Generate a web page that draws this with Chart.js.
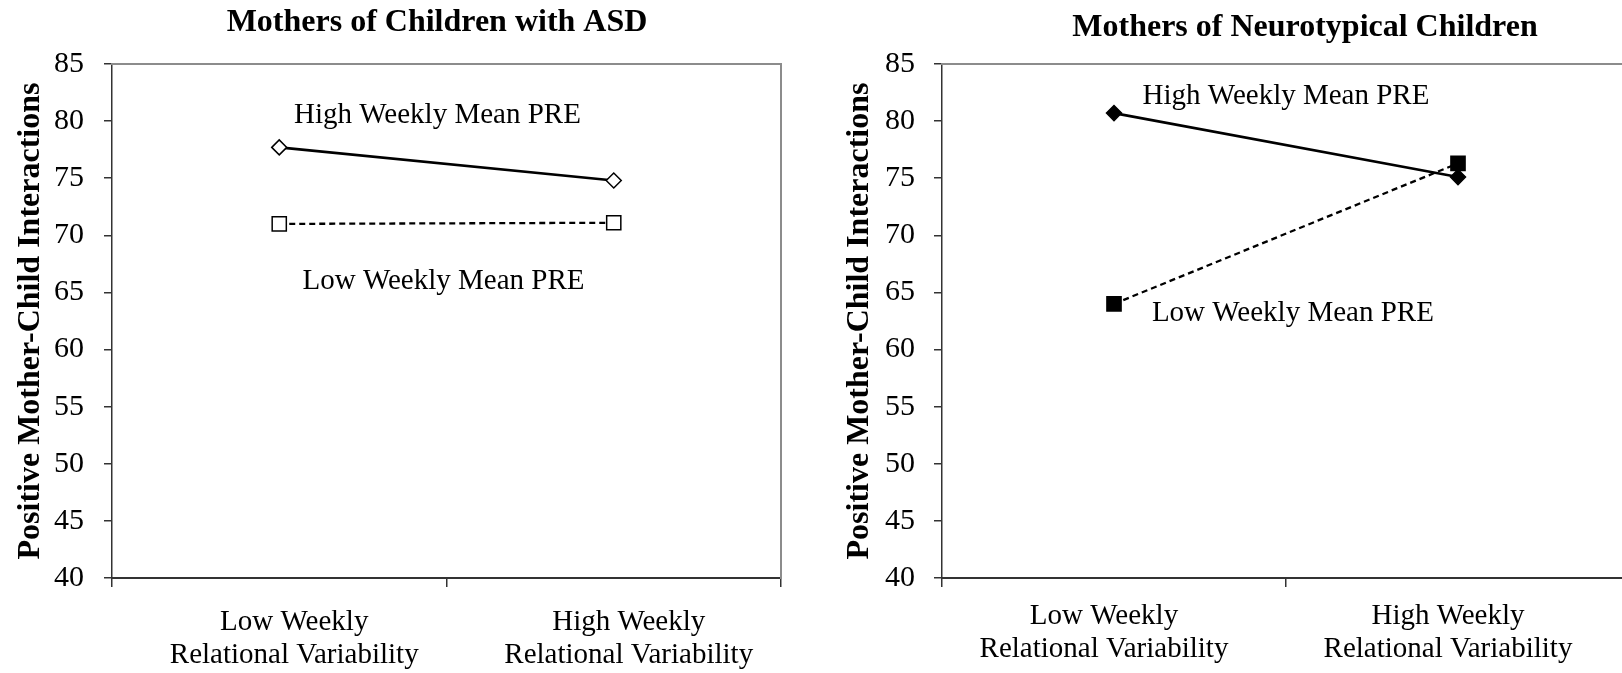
<!DOCTYPE html>
<html><head><meta charset="utf-8">
<script src="https://cdn.jsdelivr.net/npm/chart.js@4"></script>
<style>
html,body{margin:0;padding:0;background:#fff;overflow:hidden;width:1622px;height:673px;position:relative;}
#c1{position:absolute;left:0;top:0;}
#c2{position:absolute;left:820px;top:0;}
</style></head><body>
<canvas id="c1" width="820" height="673"></canvas>
<canvas id="c2" width="830" height="673"></canvas>
<script>
// ---- data ----
const categories = [['Low Weekly', 'Relational Variability'], ['High Weekly', 'Relational Variability']];
const yTicks = [40, 45, 50, 55, 60, 65, 70, 75, 80, 85];
const seriesNames = ['High Weekly Mean PRE', 'Low Weekly Mean PRE'];
const asdHigh = [77.7, 74.8];
const asdLow = [71.0, 71.1];
const ntHigh = [80.7, 75.1];
const ntLow = [64.0, 76.3];
const panelTitles = ['Mothers of Children with ASD', 'Mothers of Neurotypical Children'];
const yAxisTitle = 'Positive Mother-Child Interactions';

const SERIF = '"Liberation Serif", "Times New Roman", serif';
const AXIS = '#333333';
const FRAME = '#8c8c8c';

const textPlugin = {
  id: 'panelText',
  afterDatasetsDraw(chart, args, opts) {
    const ctx = chart.ctx;
    ctx.save();
    ctx.fillStyle = '#000';
    ctx.textAlign = 'center';
    ctx.textBaseline = 'middle';
    ctx.font = 'bold 32px ' + SERIF;
    ctx.fillText(opts.title, opts.titleX, opts.titleY);
    ctx.font = '29px ' + SERIF;
    const xs = chart.scales.x, ys = chart.scales.y;
    opts.notes.forEach(n => ctx.fillText(n.text, xs.getPixelForValue(n.x), ys.getPixelForValue(n.y)));
    ctx.restore();
  }
};

function makeChart(id, cfg) {
  const ds = [
    {
      label: seriesNames[0], data: cfg.high,
      borderColor: '#000', borderWidth: 2.6, tension: 0,
      pointStyle: 'rectRot', pointRadius: 7.5, pointHoverRadius: 7.5,
      pointBackgroundColor: cfg.filled ? '#000' : '#fff', pointBorderColor: '#000', pointBorderWidth: 1.5
    },
    {
      label: seriesNames[1], data: cfg.low,
      borderColor: '#000', borderWidth: 2.3, borderDash: [6, 4], tension: 0,
      pointStyle: 'rect', pointRadius: 10, pointHoverRadius: 10,
      pointBackgroundColor: cfg.filled ? '#000' : '#fff', pointBorderColor: '#000', pointBorderWidth: 1.5
    }
  ];
  return new Chart(document.getElementById(id), {
    type: 'line',
    data: { labels: categories, datasets: ds },
    plugins: [textPlugin],
    options: {
      responsive: false,
      animation: false,
      events: [],
      layout: { padding: { top: 64, left: 0, right: cfg.padRight, bottom: 0 } },
      plugins: {
        legend: { display: false },
        title: { display: false },
        tooltip: { enabled: false },
        panelText: { title: cfg.title, titleX: cfg.titleX, titleY: cfg.titleY, notes: cfg.notes }
      },
      scales: {
        x: {
          type: 'category', position: 'bottom', offset: true,
          grid: { display: true, offset: true, drawOnChartArea: false, drawTicks: true, tickLength: 9, color: AXIS, lineWidth: 1.5 },
          border: { display: true, color: AXIS, width: 2 },
          ticks: { color: '#000', font: { family: SERIF, size: 29, lineHeight: 1.14 }, padding: cfg.xPad, labelOffset: cfg.xLabelShift, maxRotation: 0, autoSkip: false },
          afterFit: s => { s.height = 95; }
        },
        y: {
          type: 'linear', position: 'left',
          min: yTicks[0], max: yTicks[yTicks.length - 1],
          grid: { display: true, drawOnChartArea: false, drawTicks: true, tickLength: 8, color: AXIS, lineWidth: 1.5 },
          border: { display: true, color: AXIS, width: 1.5 },
          ticks: { stepSize: yTicks[1] - yTicks[0], color: '#000', font: { family: SERIF, size: 30 }, padding: cfg.yPad },
          title: { display: true, text: yAxisTitle, color: '#000', font: { family: SERIF, size: 32, weight: 'bold', lineHeight: 1.2 }, padding: { top: cfg.yTitlePad, bottom: 0 } },
          afterFit: s => { s.width = cfg.yWidth; }
        },
        xTop: {
          type: 'category', position: 'top', offset: true,
          grid: { display: false }, ticks: { display: false },
          border: { display: true, color: FRAME, width: 2 },
          afterFit: s => { s.height = 0; }
        },
        yRight: {
          type: 'linear', position: 'right',
          grid: { display: false }, ticks: { display: false },
          border: { display: true, color: FRAME, width: 2 },
          afterFit: s => { s.width = 0; }
        }
      }
    }
  });
}

makeChart('c1', {
  high: asdHigh, low: asdLow, filled: false,
  title: panelTitles[0], titleX: 437, titleY: 23,
  padRight: 39, yWidth: 112, yTitlePad: 12, yPad: 20, xPad: 18.5, xLabelShift: 15,
  notes: [
    { text: seriesNames[0], x: 0.473, y: 80.5 },
    { text: seriesNames[1], x: 0.491, y: 66.0 }
  ]
});

makeChart('c2', {
  high: ntHigh, low: ntLow, filled: true,
  title: panelTitles[1], titleX: 485, titleY: 28,
  padRight: 20, yWidth: 122, yTitlePad: 21, yPad: 19, xPad: 12.5, xLabelShift: -10,
  notes: [
    { text: seriesNames[0], x: 0.50, y: 82.2 },
    { text: seriesNames[1], x: 0.52, y: 63.15 }
  ]
});
</script>
</body></html>
